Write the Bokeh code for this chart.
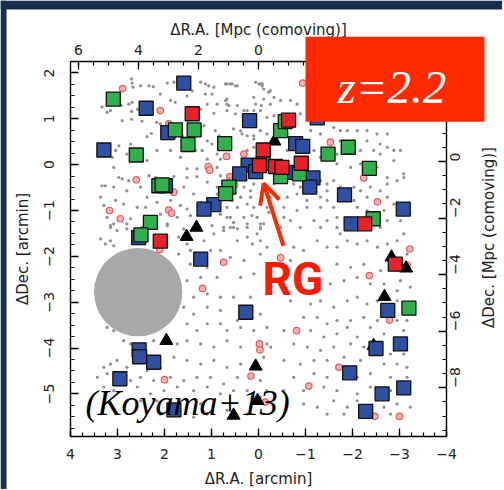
import math
from bokeh.plotting import figure
from bokeh.models import (Range1d, LinearAxis, SingleIntervalTicker, Label, Arrow, OpenHead,
                          BoxAnnotation)
from bokeh.embed import file_html
from bokeh.resources import INLINE

# ---------------- data (arcmin offsets) ----------------
gray_nw = [(2.70,1.87),(2.69,1.78),(2.67,1.69),(2.51,1.72),(2.33,1.72),(2.24,1.70),(1.94,1.78),(1.80,1.80),
 (1.70,1.76),(1.23,1.80),(1.13,1.76),(1.06,1.72),(0.95,1.69),(0.70,1.76),(0.60,1.76),(0.45,1.72),(-0.01,1.76),
 (-0.08,1.76),(-0.11,1.65),(-0.22,1.58),(3.33,1.26),(3.15,1.18),(2.92,1.29),(2.76,1.32),(2.69,1.36),(2.70,1.16),
 (2.57,1.21),(2.48,0.95),(2.70,0.99),(2.09,1.54),(1.87,1.40),(1.77,1.36),(1.52,1.50),(1.41,1.61),(1.13,1.54),
 (0.99,1.54),(0.88,1.32),(0.67,1.43),(0.63,1.29),(0.45,1.29),(0.24,1.18),(0.06,1.32),(-0.06,1.29),(-0.33,1.47),
 (1.23,1.21),(1.09,1.32),(0.95,1.12),(2.90,0.96),(2.17,0.92),(2.09,0.89),(2.28,0.68),(2.37,0.61),(2.01,0.56),
 (1.77,0.61),(1.62,0.63),(1.16,0.85),(0.92,0.74),(0.84,0.63),(1.09,0.52),(0.99,0.45),(0.53,0.78),(0.35,0.67),
 (0.10,0.56),(-0.18,0.45),(-0.04,0.27),(2.97,0.41),(2.72,0.45),(3.11,0.16),(3.04,0.31),(2.80,0.23),(2.37,0.09),
 (2.16,0.31),(1.87,0.31),(1.66,0.16),(1.34,0.31),(1.20,0.31),(0.88,0.23),(0.81,0.12),(1.52,-0.09),(1.31,-0.09),
 (1.09,0.12),(0.88,-0.06),(0.81,-0.24),(2.97,-0.28),(2.90,-0.31),(2.76,-0.35),(2.33,-0.24),(2.19,-0.28),
 (1.80,-0.26),(1.52,-0.28),(1.31,-0.26),(1.09,-0.38),(0.88,-0.49),(3.33,-0.46),(3.26,-0.46),(3.08,-0.49),
 (2.80,-0.57),(2.51,-0.49),(1.59,-0.49),(1.38,-0.64),(3.36,-0.71),(3.29,-0.89),(3.04,-0.78),(2.87,-0.86),
 (2.37,-0.71),(2.16,-0.82),(1.87,-0.78),(1.66,-0.89),(1.52,-0.97),(1.23,-0.82),(0.88,-0.64),(0.56,-0.78),
 (0.38,-0.71),(0.24,-0.86),(-0.04,-0.86),(0.14,-1.11),(-0.22,-1.04),(3.22,-1.15),(3.08,-1.29),(2.72,-1.18),
 (2.58,-0.93),(2.40,-0.93),(2.09,-1.08),(1.73,-1.15),(1.45,-1.11),(0.81,-1.08),(0.67,-1.15),(0.53,-1.26),
 (0.24,-1.29),(-0.04,-1.29),(3.15,-1.37),(2.80,-1.40),(2.48,-1.37),(1.94,-1.29),(1.59,-1.40),(0.99,-1.33),
 (0.74,-1.37),(0.45,-1.40),(-0.04,-1.40),(3.22,1.14),(3.08,-0.06)]

gray_ne = [(0.67,1.76),(0.56,1.76),(0.49,1.72),(0.06,1.80),(-0.04,1.76),(-0.08,1.72),(-0.25,1.61),(0.10,1.47),
 (-0.11,1.43),(-0.25,1.32),(-0.47,1.40),(-0.68,1.40),(0.70,1.40),(0.67,1.32),(0.67,1.18),(0.49,1.11),(0.31,1.18),
 (0.10,1.18),(-0.04,1.18),(-0.18,1.03),(-0.33,1.07),(-0.82,1.32),(-0.89,1.11),(0.38,0.74),(0.24,0.63),(0.10,0.63),
 (-0.04,0.74),(-0.18,0.67),(-0.61,0.67),(-1.11,0.74),(-1.32,0.67),(-1.60,0.81),(-1.74,0.74),(-1.89,0.74),
 (-2.10,0.74),(-2.31,0.74),(-2.52,0.67),(-2.74,0.67),(-1.74,0.52),(-2.03,0.52),(-2.31,0.52),(-2.59,0.45),
 (-2.74,0.38),(-2.88,0.31),(-3.02,0.31),(0.24,0.31),(0.10,0.38),(-0.61,0.31),(-1.18,0.31),(-1.32,0.16),
 (-1.67,0.23),(-2.17,0.31),(-2.45,0.31),(-2.59,0.23),(-2.88,0.09),(-2.17,0.02),(-1.96,-0.06),(-1.67,0.02),
 (-2.52,-0.06),(-2.74,-0.28),(-2.95,-0.35),(-3.09,-0.20),(-3.09,-0.28),(0.53,-0.57),(0.31,-0.49),(0.17,-0.57),
 (0.10,-0.42),(-0.33,-0.42),(-0.75,-0.42),(-0.89,-0.49),(-1.32,-0.35),(-1.46,-0.42),(-1.60,-0.35),(-1.46,-0.57),
 (-1.74,-0.49),(-2.03,-0.49),(-2.17,-0.57),(-2.38,-0.49),(-2.59,-0.57),(-2.74,-0.42),(0.38,-0.71),(0.17,-0.71),
 (-0.25,-0.71),(-0.61,-0.71),(-0.82,-0.64),(-1.03,-0.78),(-1.32,-0.71),(-1.46,-0.78),(-2.03,-0.78),(-2.31,-0.71),
 (-2.74,-0.71),(-2.88,-0.86),(0.67,-0.93),(0.45,-0.93),(0.10,-0.93),(-0.18,-0.93),(-0.54,-0.93),(-0.82,-1.00),
 (-1.03,-0.93),(-1.32,-0.93),(-1.60,-0.93),(-2.10,-0.93),(-2.31,-1.00),(-2.67,-1.00),(0.60,-1.15),(0.31,-1.15),
 (0.03,-1.15),(-0.54,-1.15),(-0.68,-1.22),(-1.18,-1.22),(-1.46,-1.22),(-1.67,-1.15),(-2.74,-1.22),(-3.02,-1.22),
 (0.60,-1.37),(0.24,-1.37),(-0.04,-1.37),(-0.47,-1.37),(-0.89,-1.37),(-1.32,-1.37),(-1.67,-1.37),(-2.59,-1.37)]

gray_sw = [(3.15,-1.33),(3.01,-1.44),(2.80,-1.29),(1.94,-1.33),(1.70,-1.58),(1.52,-1.73),(1.16,-1.66),(0.95,-1.51),
 (0.74,-1.44),(0.53,-1.37),(3.15,-1.66),(3.08,-1.77),(3.36,-1.62),(3.26,-1.73),(1.70,-1.95),(1.45,-1.87),
 (1.02,-1.87),(0.81,-1.87),(0.45,-1.66),(0.24,-1.58),(-0.04,-1.66),(-0.18,-1.80),(1.45,-2.17),(1.09,-2.24),
 (0.60,-2.02),(0.31,-2.09),(-0.04,-1.95),(1.52,-2.53),(1.23,-2.46),(0.88,-2.46),(0.38,-2.46),(0.10,-2.38),
 (-0.18,-2.46),(1.38,-2.89),(1.09,-2.82),(0.81,-2.89),(0.53,-2.89),(0.17,-2.89),(-0.18,-2.82),(1.59,-3.11),
 (1.38,-3.26),(1.09,-3.11),(0.81,-3.18),(0.45,-3.40),(-0.04,-3.26),(1.52,-3.47),(1.31,-3.62),(1.09,-3.47),
 (0.81,-3.47),(0.67,-3.62),(0.38,-3.55),(0.10,-3.62),(-0.18,-3.55),(1.73,-3.91),(1.52,-3.84),(1.23,-3.91),
 (0.95,-3.98),(0.67,-3.84),(0.38,-3.98),(-0.18,-3.91),(3.22,-3.55),(3.08,-3.62),(2.87,-3.84),(2.72,-3.91),
 (2.44,-3.91),(2.23,-3.84),(3.01,-4.27),(2.80,-4.42),(2.58,-4.27),(2.37,-4.49),(2.09,-4.42),(1.80,-4.20),
 (1.52,-4.27),(1.23,-4.35),(0.95,-4.27),(0.67,-4.42),(0.38,-4.35),(-0.11,-4.20),(3.29,-4.42),(3.15,-4.35),
 (3.22,-4.56),(3.43,-4.64),(2.72,-4.71),(2.51,-4.64),(2.23,-4.71),(1.87,-4.64),(1.59,-4.71),(1.31,-4.64),
 (1.02,-4.64),(0.74,-4.78),(0.45,-4.64),(-0.04,-4.71),(3.29,-4.85),(3.08,-4.93),(2.58,-4.85),(2.30,-5.00),
 (2.01,-4.93),(1.73,-4.85),(1.38,-4.93),(1.09,-4.85),(0.81,-5.00),(0.53,-4.93),(0.24,-4.93),(-0.18,-4.93),
 (2.80,-5.15),(2.51,-5.15),(2.16,-5.15),(1.23,-5.22),(0.95,-5.15),(-0.04,-5.07),(0.67,-5.36),(0.24,-5.44),
 (1.09,-5.44),(1.38,-5.51),(2.09,-5.44)]

gray_se = [(-0.11,-1.29),(0.03,-1.51),(0.13,-1.73),(-0.75,-1.80),(-0.96,-1.87),(-1.25,-1.66),(-1.46,-1.80),
 (-1.67,-1.80),(-1.74,-1.51),(-1.89,-1.66),(-2.10,-1.73),(-2.31,-1.66),(-2.53,-1.80),(-2.74,-1.73),(-2.95,-1.66),
 (-3.09,-1.51),(-3.16,-1.95),(-0.68,-2.09),(-0.89,-2.24),(-1.25,-2.24),(-1.67,-2.17),(-1.96,-2.24),(-2.24,-2.17),
 (-2.60,-2.31),(-3.02,-2.53),(-3.23,-2.67),(-0.54,-2.53),(-0.89,-2.60),(-1.25,-2.67),(-1.53,-2.60),(-1.82,-2.53),
 (-2.10,-2.46),(-2.38,-2.60),(-2.67,-2.60),(-2.95,-2.75),(-0.68,-2.97),(-1.11,-3.04),(-1.32,-2.97),(-1.60,-3.11),
 (-1.89,-2.97),(-2.10,-2.89),(-2.31,-3.04),(-2.53,-2.97),(-2.95,-2.97),(-0.96,-3.33),(-1.25,-3.33),(-1.46,-3.47),
 (-1.67,-3.40),(-1.96,-3.40),(-2.24,-3.33),(-2.53,-3.40),(-2.95,-3.40),(-3.16,-3.40),(-0.54,-3.62),(-1.11,-3.62),
 (-1.39,-3.76),(-1.67,-3.69),(-1.89,-3.55),(-2.10,-3.76),(-2.38,-3.55),(-2.67,-3.69),(-3.09,-3.62),(-0.26,-3.98),
 (-0.75,-3.91),(-1.04,-3.98),(-1.32,-4.05),(-1.60,-3.98),(-1.96,-3.91),(-2.24,-3.98),(-2.81,-4.13),(-3.09,-4.13),
 (-0.54,-4.27),(-0.89,-4.35),(-1.18,-4.27),(-1.46,-4.27),(-1.82,-4.20),(-2.17,-4.27),(-2.67,-4.35),(-2.95,-4.35),
 (-3.16,-4.42),(-0.75,-4.64),(-1.18,-4.56),(-1.46,-4.64),(-1.82,-4.64),(-2.10,-4.64),(-2.38,-4.56),(-2.81,-4.64),
 (-3.16,-4.64),(-0.54,-4.93),(-0.96,-4.93),(-1.39,-4.85),(-1.67,-4.93),(-2.10,-5.00),(-2.38,-4.85),(-2.81,-4.93),
 (-3.16,-5.00),(-0.96,-5.22),(-1.25,-5.29),(-1.60,-5.15),(-1.89,-5.29),(-2.10,-5.15),(-2.67,-5.29),(-2.95,-5.22),
 (-3.23,-5.29),(-1.46,-5.44),(-1.82,-5.44),(-2.17,-5.44),(-2.81,-5.44)]

emitter_x = [2.89,2.09,1.91,0.31,0.68,1.07,1.04,0.61,0.57,0.51,2.60,1.80,3.17,2.94,1.91,1.85,-0.94,-1.53,-2.24,
             -2.53,2.10,0.74,1.19,-0.02,-0.03,0.16,2.00,-0.15,-3.22,-2.36,-0.47,-0.81,-2.79,-1.71,-1.07,-2.47,-3.00,-3.16]
emitter_y = [1.66,1.18,0.89,0.23,0.18,-0.04,-0.12,-0.26,-0.35,-0.44,-0.33,-0.60,-1.00,-1.18,-0.99,-1.06,1.78,0.49,
             -0.29,-0.81,-1.85,-2.13,-2.70,-3.91,-4.04,-4.61,-4.69,-5.18,-1.84,-2.42,-2.03,-3.62,-3.39,-4.42,-4.83,
             -5.49,-5.49,-2.19]

tri_x = [-0.34,1.32,1.53,1.96,0.06,0.53,0.02,-2.83,-3.14,-2.68,-2.45]
tri_y = [0.51,-1.37,-1.57,-3.84,-4.40,-5.47,-5.15,-2.02,-2.26,-2.88,-3.95]

blue_x = [1.59,2.39,0.19,1.93,3.29,0.22,0.06,0.40,1.98,0.95,1.16,-0.79,-0.94,-0.60,-1.16,-1.09,-1.83,-3.08,
          -1.97,2.55,1.23,0.27,2.54,2.53,2.23,2.95,1.80,-2.75,-3.02,-2.50,-1.94,-3.09,-2.63,-2.28,-1.25]
blue_y = [1.78,1.23,0.96,0.70,0.32,-0.01,-0.15,-0.20,-0.46,-0.87,-0.97,0.46,0.40,-0.17,-0.29,-0.49,-0.66,-0.97,
          -1.29,-1.59,-2.06,-3.22,-4.04,-4.19,-4.31,-4.67,-5.35,-3.18,-3.91,-4.01,-4.54,-4.87,-5.00,-5.38,1.02]

green_x = [3.09,1.77,1.37,1.50,0.72,-0.47,2.60,-0.57,-0.10,-0.47,-0.87,2.12,2.05,0.63,0.70,2.30,2.50,
           -1.48,-1.91,-2.36,-2.44,-3.20]
green_y = [1.43,0.76,0.76,0.44,0.46,0.74,0.21,0.94,0.03,-0.26,-0.20,-0.46,-0.44,-0.49,-0.63,-1.26,-1.53,
           0.23,0.38,-0.08,-1.18,-3.13]

red_x = [1.41,-0.10,-0.02,-0.36,-0.50,-0.64,-0.91,-2.26,2.09,-2.91]
red_y = [1.11,0.32,-0.02,-0.04,-0.06,0.97,0.03,-1.29,-1.67,-2.17]

mask_x, mask_y, mask_r = [2.56], [-2.78], [0.94]

# field limits (arcmin) and conversion to comoving Mpc
RA_LIM = (-4.0, 4.0)
DEC_LIM = (-5.93, 2.25)
MPC_PER_ARCMIN_RA = 1.567
MPC_PER_ARCMIN_DEC = 1.62
DEC_ZERO = 0.07

# ---------------- figure ----------------
W, H = 502, 489
PX_X, PX_Y = 47.0, 45.844          # pixels per arcmin
LEFT, TOP = 70, 61                 # inner box offset on the canvas
x0 = RA_LIM[1] + LEFT / PX_X
x1 = x0 - W / PX_X
y1 = DEC_LIM[1] + TOP / PX_Y
y0 = y1 - H / PX_Y

p = figure(width=W, height=H, min_border=0,
           x_range=Range1d(x0, x1), y_range=Range1d(y0, y1),
           output_backend="svg", toolbar_location=None,
           background_fill_color="white", border_fill_color="white")
p.outline_line_color = None
p.xgrid.visible = False
p.ygrid.visible = False

p.extra_x_ranges = {"mpcx": Range1d(x0 * MPC_PER_ARCMIN_RA, x1 * MPC_PER_ARCMIN_RA)}
p.extra_y_ranges = {"mpcy": Range1d((y0 - DEC_ZERO) * MPC_PER_ARCMIN_DEC,
                                    (y1 - DEC_ZERO) * MPC_PER_ARCMIN_DEC)}

FONT = "DejaVu Sans"

def style(ax, label, standoff, lstandoff, orient=None):
    ax.axis_label = label
    ax.axis_label_text_font = FONT
    ax.axis_label_text_font_size = "15px"
    ax.axis_label_text_font_style = "normal"
    ax.axis_label_text_color = "#222222"
    ax.axis_label_standoff = lstandoff
    ax.major_label_text_font = FONT
    ax.major_label_text_font_size = "14px"
    ax.major_label_text_color = "#222222"
    ax.major_label_standoff = standoff
    ax.major_tick_in = 8
    ax.major_tick_out = 0
    ax.minor_tick_in = 4
    ax.minor_tick_out = 0
    ax.axis_line_color = "black"
    ax.axis_line_width = 1.4
    ax.major_tick_line_color = "black"
    ax.major_tick_line_width = 1.3
    ax.minor_tick_line_color = "black"
    ax.minor_tick_line_width = 1.2
    if orient is not None:
        ax.major_label_orientation = orient

bottom = p.xaxis[0]
bottom.ticker = SingleIntervalTicker(interval=1, num_minor_ticks=4)
bottom.fixed_location = DEC_LIM[0]
bottom.bounds = RA_LIM
style(bottom, "ΔR.A. [arcmin]", 12, 8)

left = p.yaxis[0]
left.ticker = SingleIntervalTicker(interval=1, num_minor_ticks=4)
left.fixed_location = RA_LIM[1]
left.bounds = DEC_LIM
style(left, "ΔDec. [arcmin]", 16, 10, "parallel")

top = LinearAxis(x_range_name="mpcx", ticker=SingleIntervalTicker(interval=2, num_minor_ticks=4))
top.fixed_location = DEC_LIM[1]
top.bounds = (RA_LIM[0] * MPC_PER_ARCMIN_RA, RA_LIM[1] * MPC_PER_ARCMIN_RA)
style(top, "ΔR.A. [Mpc (comoving)]", 7, 3)
p.add_layout(top, "above")

right = LinearAxis(y_range_name="mpcy", ticker=SingleIntervalTicker(interval=2, num_minor_ticks=4))
right.fixed_location = RA_LIM[0]
right.bounds = ((DEC_LIM[0] - DEC_ZERO) * MPC_PER_ARCMIN_DEC, (DEC_LIM[1] - DEC_ZERO) * MPC_PER_ARCMIN_DEC)
style(right, "", 9, 8, math.pi / 2)
p.add_layout(right, "right")

# right axis title, reading bottom-to-top like the reference
p.add_layout(Label(x=RA_LIM[0] - 42 / PX_X, y=-1.59, text="ΔDec. [Mpc (comoving)]",
                   angle=math.pi / 2, text_font=FONT, text_font_size="15px",
                   text_color="#222222", text_align="center", text_baseline="middle"))

# ---------------- glyphs ----------------
for grp in (gray_nw, gray_ne, gray_sw, gray_se):
    p.scatter([a for a, b in grp], [b for a, b in grp], marker="circle", size=3.2,
              fill_color="#8f8f8f", line_color=None)

p.circle(mask_x, mask_y, radius=mask_r, fill_color="#a8a8a8", line_color=None)

p.scatter(emitter_x, emitter_y, marker="circle", size=6.5, fill_color="#f6b3b3",
          line_color="#e85a5a", line_width=1.2)

p.scatter(tri_x, tri_y, marker="triangle", size=13, fill_color="black", line_color="black")

p.scatter(blue_x, blue_y, marker="square", size=14, fill_color="#2f4fa2",
          line_color="#111111", line_width=1.3)
p.scatter(green_x, green_y, marker="square", size=14, fill_color="#2fb04c",
          line_color="#111111", line_width=1.3)
p.scatter(red_x, red_y, marker="square", size=14, fill_color="#e8222a",
          line_color="#111111", line_width=1.3)

# ---------------- annotations ----------------
p.add_layout(Arrow(x_start=-0.53, y_start=-1.77, x_end=-0.11, y_end=-0.41,
                   line_color="#ff2a00", line_width=4,
                   end=OpenHead(line_color="#ff2a00", line_width=4, size=20)))

p.add_layout(Label(x=-0.085, y=-2.49, text="RG", text_font="Roboto", text_font_style="bold",
                   text_font_size="46px", text_color="#ff1a00", text_baseline="alphabetic"))

p.add_layout(Label(x=3.68, y=-5.195, text="(Koyama+13)", text_font="Liberation Serif",
                   text_font_style="italic", text_font_size="36px", text_color="black",
                   text_baseline="alphabetic"))

# slide frame strips (dark navy)
p.add_layout(BoxAnnotation(right=x0 - 6 / PX_X, fill_color="#17304f", fill_alpha=1.0, line_color=None))
p.add_layout(BoxAnnotation(bottom=y1 - 9 / PX_Y, fill_color="#17304f", fill_alpha=1.0, line_color=None))

# redshift tag
p.add_layout(BoxAnnotation(left=-4.809, right=-1.0, bottom=0.938, top=2.791,
                           fill_color="#ff2a00", fill_alpha=1.0, line_color=None))
p.add_layout(Label(x=-1.68, y=1.70, text="z=2.2", text_font="Liberation Serif",
                   text_font_style="italic", text_font_size="47px", text_color="white",
                   text_baseline="alphabetic"))

open("out.html", "w").write(file_html(p, INLINE))
